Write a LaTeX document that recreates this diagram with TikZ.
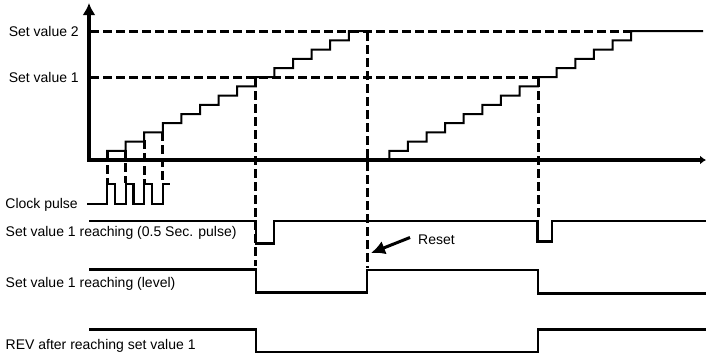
\documentclass[tikz,border=0pt]{standalone}
\usepackage{fontspec}
\setmainfont{Liberation Sans}
\usetikzlibrary{arrows.meta}
\begin{document}
\begin{tikzpicture}[x=1pt,y=-1pt,
  axis/.style={line width=3.8pt},
  stair/.style={line width=2pt},
  sig/.style={line width=2.2pt},
  guide/.style={line width=3pt,dash pattern=on 8.5pt off 4.5pt},
  lbl/.style={inner sep=0pt,font=\fontsize{14}{16}\selectfont}]
\useasboundingbox (0,0) rectangle (706,356);
% axes
\coordinate (o) at (89,160);
\coordinate (ytop) at (89,3);
\coordinate (xend) at (706,160);
\draw[axis,-{Latex[length=12pt,width=13pt]}] (89,161.9) -- (ytop);
\draw[axis,-{Latex[length=6pt,width=9pt]}] (87.1,160) -- (xend);
% set value guides
\coordinate (sv2a) at (90,31.2);
\coordinate (sv2b) at (631.1,31.2);
\coordinate (sv1a) at (90,77.2);
\coordinate (sv1b) at (538.1,77.2);
\draw[guide] (sv2a) -- (sv2b);
\draw[guide] (sv1a) -- (sv1b);
% staircases
\draw[stair] (107,160) \foreach \k in {1,...,13}{ -- ++(0,-9.2) -- ++(18.6,0)} -- ++(0,-9.2) -- (367,31.2);
\draw[stair] (389.3,160) \foreach \k in {1,...,13}{ -- ++(0,-9.2) -- ++(18.6,0)} -- ++(0,-9.2) -- (703,31.2);
% vertical guides
\draw[guide] (107,152) -- (107,183);
\draw[guide] (125.6,150) -- (125.6,183);
\draw[guide] (144.2,140) -- (144.2,183);
\draw[guide] (162.8,132) -- (162.8,183);
\draw[guide] (255.8,78) -- (255.8,266);
\draw[guide] (367,32) -- (367,268);
\draw[guide] (538.1,78) -- (538.1,218);
% clock pulse
\draw[sig] (87,204) -- (107,204) -- (107,184) -- (115,184) -- (115,204) -- (125.6,204) -- (125.6,184) -- (133.5,184) -- (133.5,204) -- (144.2,204) -- (144.2,184) -- (152.3,184) -- (152.3,204) -- (162.8,204) -- (162.8,184) -- (170,184);
% 0.5 sec pulse
\draw[sig] (89,221) -- (255.8,221) -- (255.8,243.5) -- (274,243.5) -- (274,221) -- (537.5,221) -- (537.5,241.5) -- (552.3,241.5) -- (552.3,221) -- (706,221);
% level
\draw[sig] (89,269.5) -- (255.8,269.5) -- (255.8,292.5) -- (367,292.5) -- (367,270) -- (538.3,270) -- (538.3,293.5) -- (706,293.5);
% REV
\draw[sig] (89,329.5) -- (255.8,329.5) -- (255.8,352) -- (537.8,352) -- (537.8,329.5) -- (706,329.5);
% labels
\node[lbl,anchor=east] (l2) at (79,31) {Set value 2};
\node[lbl,anchor=east] (l1) at (79,77) {Set value 1};
\node[lbl,anchor=east] (lc) at (78,205) {Clock pulse};
\node[lbl,anchor=west] (lp) at (5.5,232.5) {Set value 1 reaching (0.5 Sec. pulse)};
\node[lbl,anchor=west] (ll) at (5.5,283.5) {Set value 1 reaching (level)};
\node[lbl,anchor=west] (lr) at (5.5,345.5) {REV after reaching set value 1};
\node[lbl,anchor=west] (reset) at (418,240) {Reset};
\coordinate (rs) at (410,237.5);
\coordinate (re) at (371,253);
\draw[line width=3pt,-{Latex[length=14pt,width=14pt]}] (rs) -- (re);
\end{tikzpicture}
\end{document}
